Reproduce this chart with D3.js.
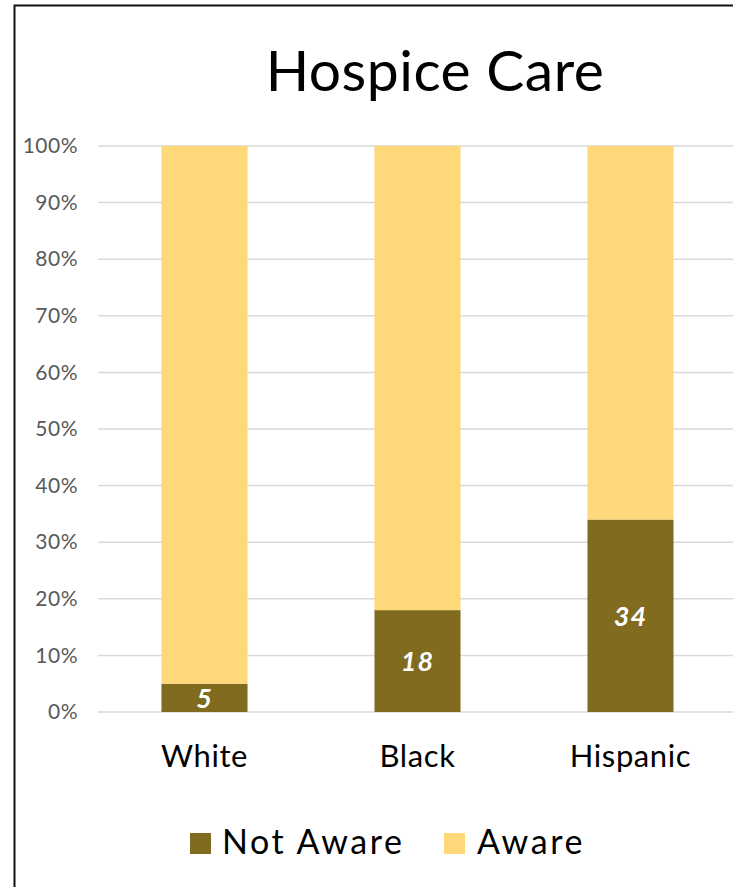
<!DOCTYPE html>
<html>
<head>
<meta charset="utf-8">
<script src="https://cdn.jsdelivr.net/npm/d3@7/dist/d3.min.js"></script>
<style>
  html, body { margin: 0; padding: 0; background: #fff; overflow: hidden; }
  svg { display: block; font-family: "Lato", "Open Sans", sans-serif; }
</style>
</head>
<body>
<svg id="chart" width="733" height="887"></svg>
<script>
// Awareness of hospice care by group (percent)
const categories = ["White", "Black", "Hispanic"];
const notAware = [5, 18, 34];
const aware = [95, 82, 66];
const seriesNames = ["Not Aware", "Aware"];
const tickValues = [0, 10, 20, 30, 40, 50, 60, 70, 80, 90, 100];

const colors = { "Not Aware": "#806B1E", "Aware": "#FED879" };

const svg = d3.select("#chart");

// outer frame (runs off the right and bottom edges)
svg.append("rect")
  .attr("x", 14.5).attr("y", 5.5)
  .attr("width", 760).attr("height", 900)
  .attr("fill", "#fff").attr("stroke", "#111").attr("stroke-width", 2);

const plot = { left: 98, right: 737, top: 146, bottom: 712 };

const x = d3.scaleBand().domain(categories)
  .range([plot.left, plot.right]).paddingInner(0.596).paddingOuter(0.298);
const y = d3.scaleLinear().domain([0, 100]).range([plot.bottom, plot.top]);

// gridlines
svg.append("g").selectAll("line").data(tickValues).join("line")
  .attr("x1", plot.left).attr("x2", plot.right)
  .attr("y1", d => y(d)).attr("y2", d => y(d))
  .attr("stroke", "#D9D9D9").attr("stroke-width", 1.5);

// y axis labels
const yAxis = d3.axisLeft(y).tickValues(tickValues).tickFormat(d => d + "%").tickSize(0).tickPadding(20);
const ya = svg.append("g").attr("transform", `translate(${plot.left},0)`).call(yAxis);
ya.select(".domain").remove();
ya.selectAll("text").attr("font-size", 21).attr("letter-spacing", 0.5)
  .attr("fill", "#595959").attr("font-family", "Lato, sans-serif");

// stacked bars
const rows = categories.map((c, i) => ({ cat: c, "Not Aware": notAware[i], "Aware": aware[i] }));
const stacked = d3.stack().keys(seriesNames)(rows);

svg.append("g").selectAll("g").data(stacked).join("g")
  .attr("fill", s => colors[s.key])
  .selectAll("rect").data(s => s).join("rect")
  .attr("x", d => x(d.data.cat))
  .attr("width", x.bandwidth())
  .attr("y", d => y(d[1]))
  .attr("height", d => y(d[0]) - y(d[1]));

// value labels on the Not Aware segments
svg.append("g").selectAll("text").data(stacked[0]).join("text")
  .attr("x", d => x(d.data.cat) + x.bandwidth() / 2)
  .attr("y", d => (y(d[0]) + y(d[1])) / 2)
  .attr("dy", "0.36em")
  .attr("text-anchor", "middle")
  .attr("fill", "#fff")
  .attr("font-size", 27)
  .attr("font-weight", "bold")
  .attr("font-style", "italic")
  .attr("letter-spacing", 1)
  .text(d => d.data["Not Aware"]);

// category labels
svg.append("g").selectAll("text").data(categories).join("text")
  .attr("x", d => x(d) + x.bandwidth() / 2)
  .attr("y", 767)
  .attr("text-anchor", "middle")
  .attr("font-size", 31)
  .attr("letter-spacing", 0.6)
  .attr("fill", "#000")
  .text(d => d);

// title
svg.append("text")
  .attr("x", 435).attr("y", 91)
  .attr("text-anchor", "middle")
  .attr("font-size", 57)
  .attr("letter-spacing", 0.5)
  .attr("fill", "#000")
  .text("Hospice Care");

// legend
const legendX = [190, 444];
const lg = svg.append("g").selectAll("g").data(seriesNames).join("g")
  .attr("transform", (d, i) => `translate(${legendX[i]},833)`);
lg.append("rect").attr("width", 21).attr("height", 21).attr("fill", d => colors[d]);
lg.append("text").attr("x", d => d === "Aware" ? 33 : 32).attr("y", 21)
  .attr("font-size", 34).attr("letter-spacing", 2.6).attr("fill", "#000").text(d => d);
</script>
</body>
</html>
